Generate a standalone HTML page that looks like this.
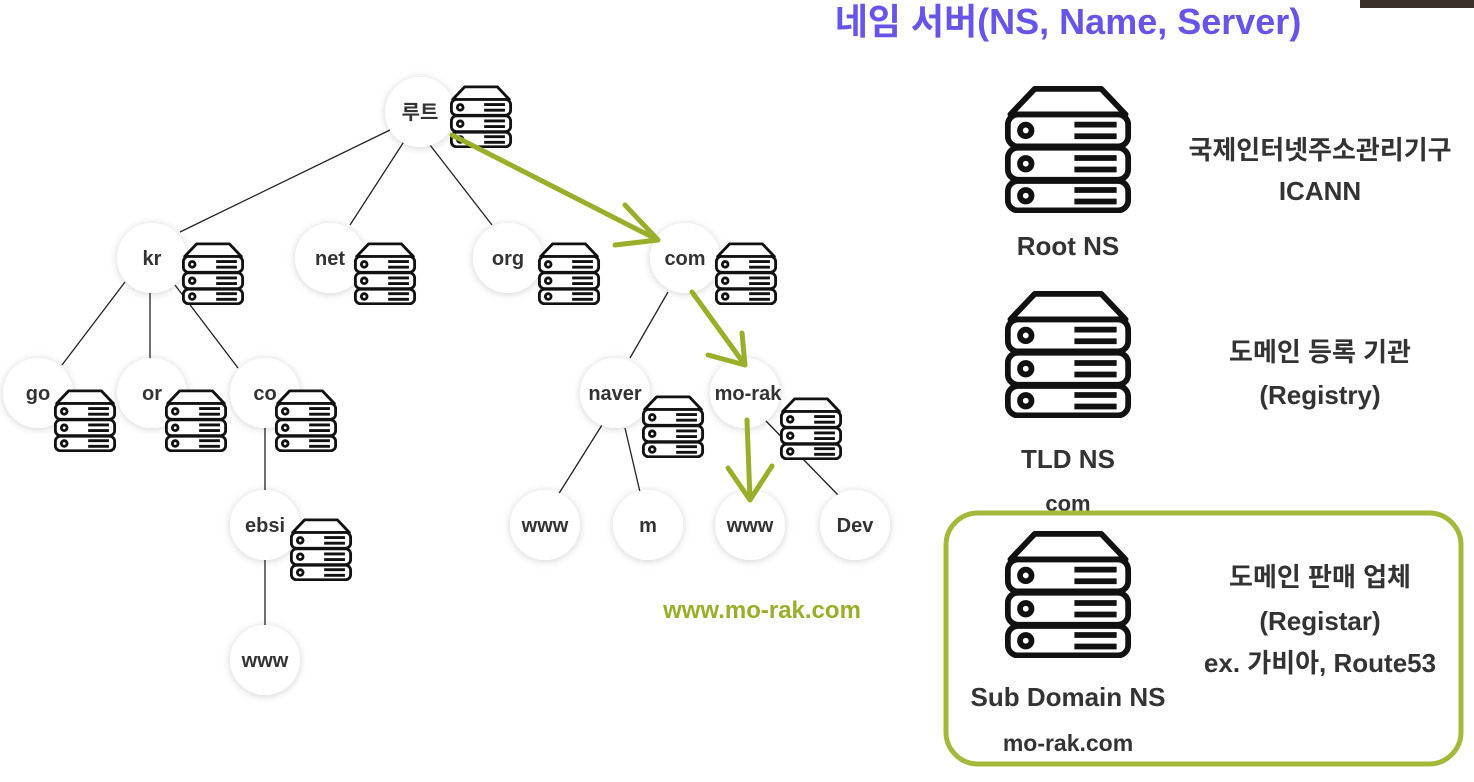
<!DOCTYPE html>
<html><head><meta charset="utf-8"><style>
body{margin:0;background:#fff;}
svg text{font-family:"Liberation Sans","Noto Sans CJK KR",sans-serif;font-weight:bold;}
</style></head><body>
<svg width="1474" height="777" viewBox="0 0 1474 777" xmlns="http://www.w3.org/2000/svg">
<defs>
<symbol id="sv" viewBox="0 0 100 100">
<g fill="none" stroke="#111" stroke-width="4.5" stroke-linejoin="round">
<path d="M24,3 L76,3 L95,23 L5,23 Z" fill="#fff"/>
<rect x="3" y="23" width="94" height="25" rx="8" fill="#fff"/>
<rect x="3" y="49" width="94" height="25" rx="8" fill="#fff"/>
<rect x="3" y="75" width="94" height="23" rx="8" fill="#fff"/>
<circle cx="17" cy="35.5" r="4.5"/><circle cx="17" cy="61.5" r="4.5"/><circle cx="17" cy="86.5" r="4.5"/>
<path d="M55,31H88M55,40H88M55,57H88M55,66H88M55,82H88M55,91H88"/>
</g>
</symbol>
<filter id="sh" x="-50%" y="-50%" width="200%" height="200%"><feDropShadow dx="0" dy="1" stdDeviation="4" flood-color="#000" flood-opacity="0.18"/></filter>
</defs>
<rect x="1360" y="0" width="114" height="8" fill="#3a3028"/>
<g stroke="#222" stroke-width="1.3">
<line x1="390" y1="130" x2="180" y2="232"/><line x1="405" y1="140" x2="350" y2="225"/><line x1="430" y1="145" x2="492" y2="225"/>
<line x1="125" y1="282" x2="62" y2="365"/><line x1="150" y1="290" x2="150" y2="358"/><line x1="175" y1="285" x2="238" y2="368"/>
<line x1="265" y1="428" x2="265" y2="492"/><line x1="265" y1="560" x2="265" y2="625"/>
<line x1="668" y1="292" x2="630" y2="358"/><line x1="602" y1="425" x2="558" y2="495"/><line x1="625" y1="428" x2="640" y2="492"/>
<line x1="765" y1="420" x2="838" y2="495"/>
</g>
<g fill="#fff" filter="url(#sh)">
<circle cx="420" cy="112" r="35"/><circle cx="152" cy="258" r="35"/><circle cx="330" cy="258" r="35"/><circle cx="508" cy="258" r="35"/><circle cx="685" cy="258" r="35"/>
<circle cx="38" cy="393" r="35"/><circle cx="152" cy="393" r="35"/><circle cx="265" cy="393" r="35"/><circle cx="615" cy="393" r="35"/><circle cx="745" cy="393" r="35"/>
<circle cx="545" cy="525" r="35"/><circle cx="648" cy="525" r="35"/><circle cx="750" cy="525" r="35"/><circle cx="855" cy="525" r="35"/><circle cx="265" cy="525" r="35"/><circle cx="265" cy="660" r="35"/>
</g>
<g font-size="20" fill="#333" text-anchor="middle">
<text x="420" y="119">루트</text><text x="152" y="265">kr</text><text x="330" y="265">net</text><text x="508" y="265">org</text><text x="685" y="265">com</text>
<text x="38" y="400">go</text><text x="152" y="400">or</text><text x="265" y="400">co</text><text x="615" y="400">naver</text><text x="748" y="400">mo-rak</text>
<text x="545" y="532">www</text><text x="648" y="532">m</text><text x="750" y="532">www</text><text x="855" y="532">Dev</text><text x="265" y="532">ebsi</text><text x="265" y="667">www</text>
</g>
<g>
<use href="#sv" x="448" y="85" width="66" height="63"/>
<use href="#sv" x="180" y="242" width="66" height="63"/>
<use href="#sv" x="352" y="242" width="66" height="63"/>
<use href="#sv" x="536" y="242" width="66" height="63"/>
<use href="#sv" x="713" y="242" width="66" height="63"/>
<use href="#sv" x="52" y="389" width="66" height="63"/>
<use href="#sv" x="163" y="389" width="66" height="63"/>
<use href="#sv" x="273" y="389" width="66" height="63"/>
<use href="#sv" x="640" y="395" width="66" height="63"/>
<use href="#sv" x="778" y="397" width="66" height="63"/>
<use href="#sv" x="288" y="518" width="66" height="63"/>
<use href="#sv" x="1003" y="85" width="130" height="128"/>
<use href="#sv" x="1003" y="290" width="130" height="128"/>
<use href="#sv" x="1003" y="530" width="130" height="128"/>
</g>
<g stroke="#9aae2a" stroke-width="5" fill="none" stroke-linecap="round" stroke-linejoin="round">
<path d="M452,135 L658,240 M625,205 L658,240 L615,245"/>
<path d="M692,292 L745,365 M742,333 L745,365 L708,355"/>
<path d="M747,420 L750,500 M728,468 L750,500 L772,466"/>
</g>
<text x="762" y="618" font-size="24" fill="#9aae2a" text-anchor="middle">www.mo-rak.com</text>
<text x="1068" y="34" font-size="36" fill="#6655e8" text-anchor="middle">네임 서버(NS, Name, Server)</text>
<g font-size="26" fill="#333" text-anchor="middle">
<text x="1068" y="255">Root NS</text>
<text x="1068" y="468">TLD NS</text>
<text x="1068" y="511" font-size="22">com</text>
<text x="1068" y="706">Sub Domain NS</text>
<text x="1068" y="751" font-size="23">mo-rak.com</text>
<text x="1320" y="159">국제인터넷주소관리기구</text>
<text x="1320" y="200">ICANN</text>
<text x="1320" y="361">도메인 등록 기관</text>
<text x="1320" y="404">(Registry)</text>
<text x="1320" y="586">도메인 판매 업체</text>
<text x="1320" y="630">(Registar)</text>
<text x="1320" y="672">ex. 가비아, Route53</text>
</g>
<rect x="946" y="513" width="515" height="251" rx="32" fill="none" stroke="#a4b83a" stroke-width="5"/>
</svg>
</body></html>
